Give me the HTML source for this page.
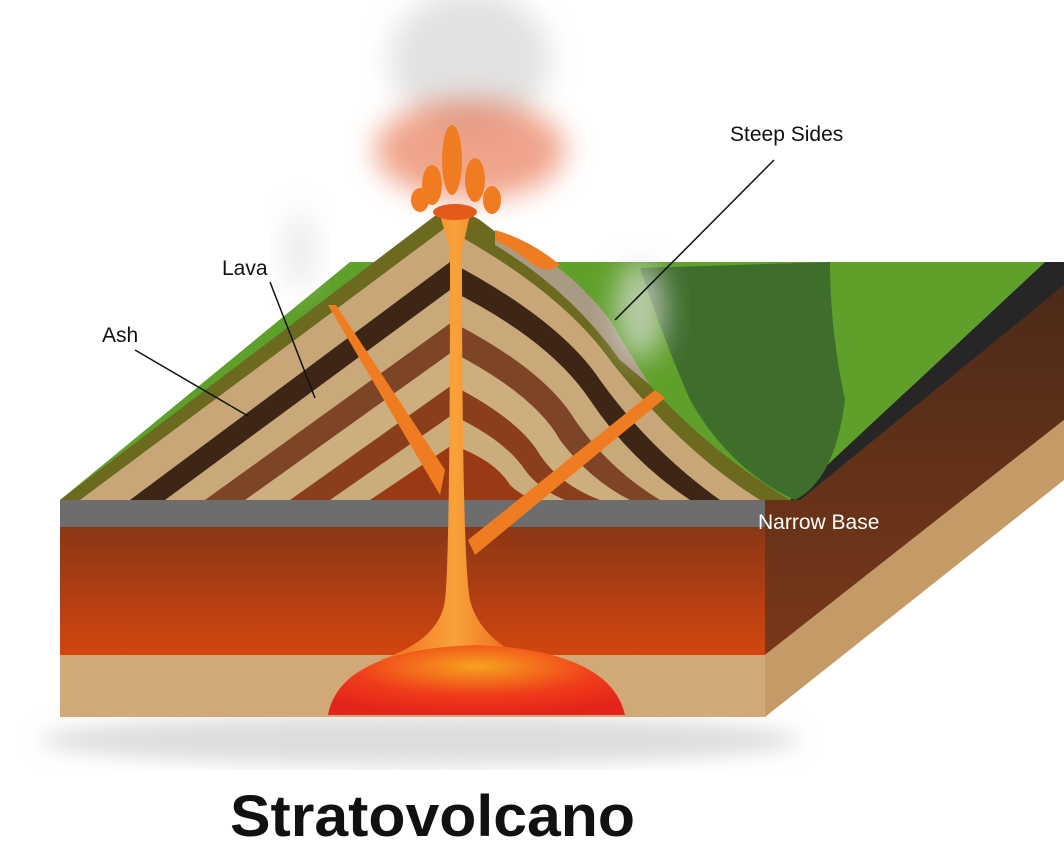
<!DOCTYPE html>
<html><head><meta charset="utf-8"><style>
html,body{margin:0;padding:0;background:#fff;}
svg{display:block;}
text{font-family:"Liberation Sans",sans-serif;}
</style></head><body>
<svg width="1064" height="868" viewBox="0 0 1064 868">
<defs>
<filter id="blur" x="-50%" y="-50%" width="200%" height="200%"><feGaussianBlur stdDeviation="14"/></filter>
<filter id="sblur"><feGaussianBlur stdDeviation="10"/></filter>
<linearGradient id="red" x1="0" y1="0" x2="0" y2="1"><stop offset="0" stop-color="#8a3716"/><stop offset="1" stop-color="#d3450f"/></linearGradient>
<linearGradient id="side" x1="0" y1="0" x2="0" y2="1"><stop offset="0" stop-color="#4a2a18"/><stop offset="1" stop-color="#7a3818"/></linearGradient>
<radialGradient id="magma" cx="0.5" cy="0.3" r="0.7"><stop offset="0" stop-color="#f7a21e"/><stop offset="0.6" stop-color="#ef3c1a"/><stop offset="1" stop-color="#e3241a"/></radialGradient>
<linearGradient id="cond" x1="0" y1="0" x2="1" y2="0"><stop offset="0" stop-color="#f06a1a"/><stop offset="0.5" stop-color="#f9a23a"/><stop offset="1" stop-color="#ea5a14"/></linearGradient>
</defs>
<ellipse cx="420" cy="740" rx="380" ry="25" fill="#ddd" filter="url(#sblur)"/>
<g>
<polygon points="765,500 1064,270 1064,420 765,655" fill="url(#side)"/>
<polygon points="60,500 350,262 1045,262 790,500" fill="#5fa02a"/>
<polygon points="790,500 1045,262 1064,262 1064,285 800,500" fill="#262626"/>
<polygon points="765,655 1064,420 1064,480 765,717" fill="#c49a66"/>
<rect x="60" y="500" width="705" height="27" fill="#6d6d6d"/>
<rect x="60" y="527" width="705" height="128" fill="url(#red)"/>
<rect x="60" y="655" width="705" height="62" fill="#d1a877"/>
</g>
<g>
<path d="M640,268 L830,262 Q830,330 845,400 Q835,480 795,500 Q730,470 690,400 Q660,330 640,268 Z" fill="#3f6e2c"/>
<path d="M60,500 L440,212 Q460,208 480,220 Q560,280 620,350 Q690,440 790,500 Z" fill="#6c6a1f"/>
<path d="M495,235 Q560,255 610,320 Q640,370 650,385 L620,360 Q570,290 495,245Z" fill="#a99a83"/>
<path d="M80,500 L445,228 Q560,290 610,360 Q680,450 760,500 Z" fill="#c8a678"/>
<path d="M130,500 L450,262 Q560,320 600,380 Q650,450 720,500 Z" fill="#3e2616"/>
<path d="M165,500 L450,290 Q550,340 590,400 Q630,460 690,500 Z" fill="#c9a97a"/>
<path d="M205,500 L452,322 Q545,370 575,420 Q610,470 660,500 Z" fill="#7e4426"/>
<path d="M245,500 L452,352 Q535,395 560,440 Q590,480 630,500 Z" fill="#cdae7e"/>
<path d="M290,500 L452,385 Q520,420 540,455 Q560,485 600,500 Z" fill="#8a3e1e"/>
<path d="M330,500 L452,415 Q505,440 525,470 Q540,490 565,500 Z" fill="#cbac7c"/>
<path d="M370,500 L452,445 Q495,460 510,485 Q520,495 535,500 Z" fill="#9a3a14"/>
</g>
<g>
<polygon points="328,305 336,305 445,470 440,495" fill="#f07c22"/>
<polygon points="655,390 665,398 475,555 468,540" fill="#f07c22"/>
<path d="M440,215 L470,215 L462,250 Q462,560 470,600 Q480,640 530,660 L380,660 Q440,640 445,600 Q450,560 450,250 Z" fill="url(#cond)"/>
<path d="M328,715 Q340,650 475,645 Q610,650 625,715 Z" fill="url(#magma)"/>
</g>
<g>
<ellipse cx="470" cy="60" rx="80" ry="70" fill="#cfcfcf" opacity="0.6" filter="url(#blur)"/>
<ellipse cx="470" cy="150" rx="95" ry="50" fill="#e35a2a" opacity="0.55" filter="url(#blur)"/>
<ellipse cx="640" cy="310" rx="25" ry="50" fill="#e0e0e0" opacity="0.7" filter="url(#blur)"/>
<ellipse cx="300" cy="250" rx="15" ry="40" fill="#dcdcdc" opacity="0.6" filter="url(#blur)"/>
<ellipse cx="452" cy="160" rx="10" ry="35" fill="#f07c22"/>
<ellipse cx="432" cy="185" rx="10" ry="20" fill="#f07c22"/>
<ellipse cx="475" cy="180" rx="10" ry="22" fill="#f07c22"/>
<ellipse cx="492" cy="200" rx="9" ry="14" fill="#f07c22"/>
<ellipse cx="420" cy="200" rx="9" ry="12" fill="#f07c22"/>
<ellipse cx="455" cy="212" rx="22" ry="8" fill="#e35a1a"/>
<path d="M495,230 Q530,240 560,265 Q545,275 530,262 Q515,250 495,240Z" fill="#f07c22"/>
</g>
<g font-size="21" fill="#111">
<line x1="774" y1="160" x2="615" y2="320" stroke="#111" stroke-width="1.5"/>
<text x="730" y="141">Steep Sides</text>
<line x1="270" y1="282" x2="315" y2="398" stroke="#111" stroke-width="1.5"/>
<text x="222" y="275">Lava</text>
<line x1="135" y1="350" x2="248" y2="416" stroke="#111" stroke-width="1.5"/>
<text x="102" y="342">Ash</text>
<text x="758" y="529" fill="#fff">Narrow Base</text>
</g>
<text x="230" y="836" font-size="58" font-weight="bold" fill="#111" textLength="405" lengthAdjust="spacingAndGlyphs">Stratovolcano</text>
</svg>
</body></html>
